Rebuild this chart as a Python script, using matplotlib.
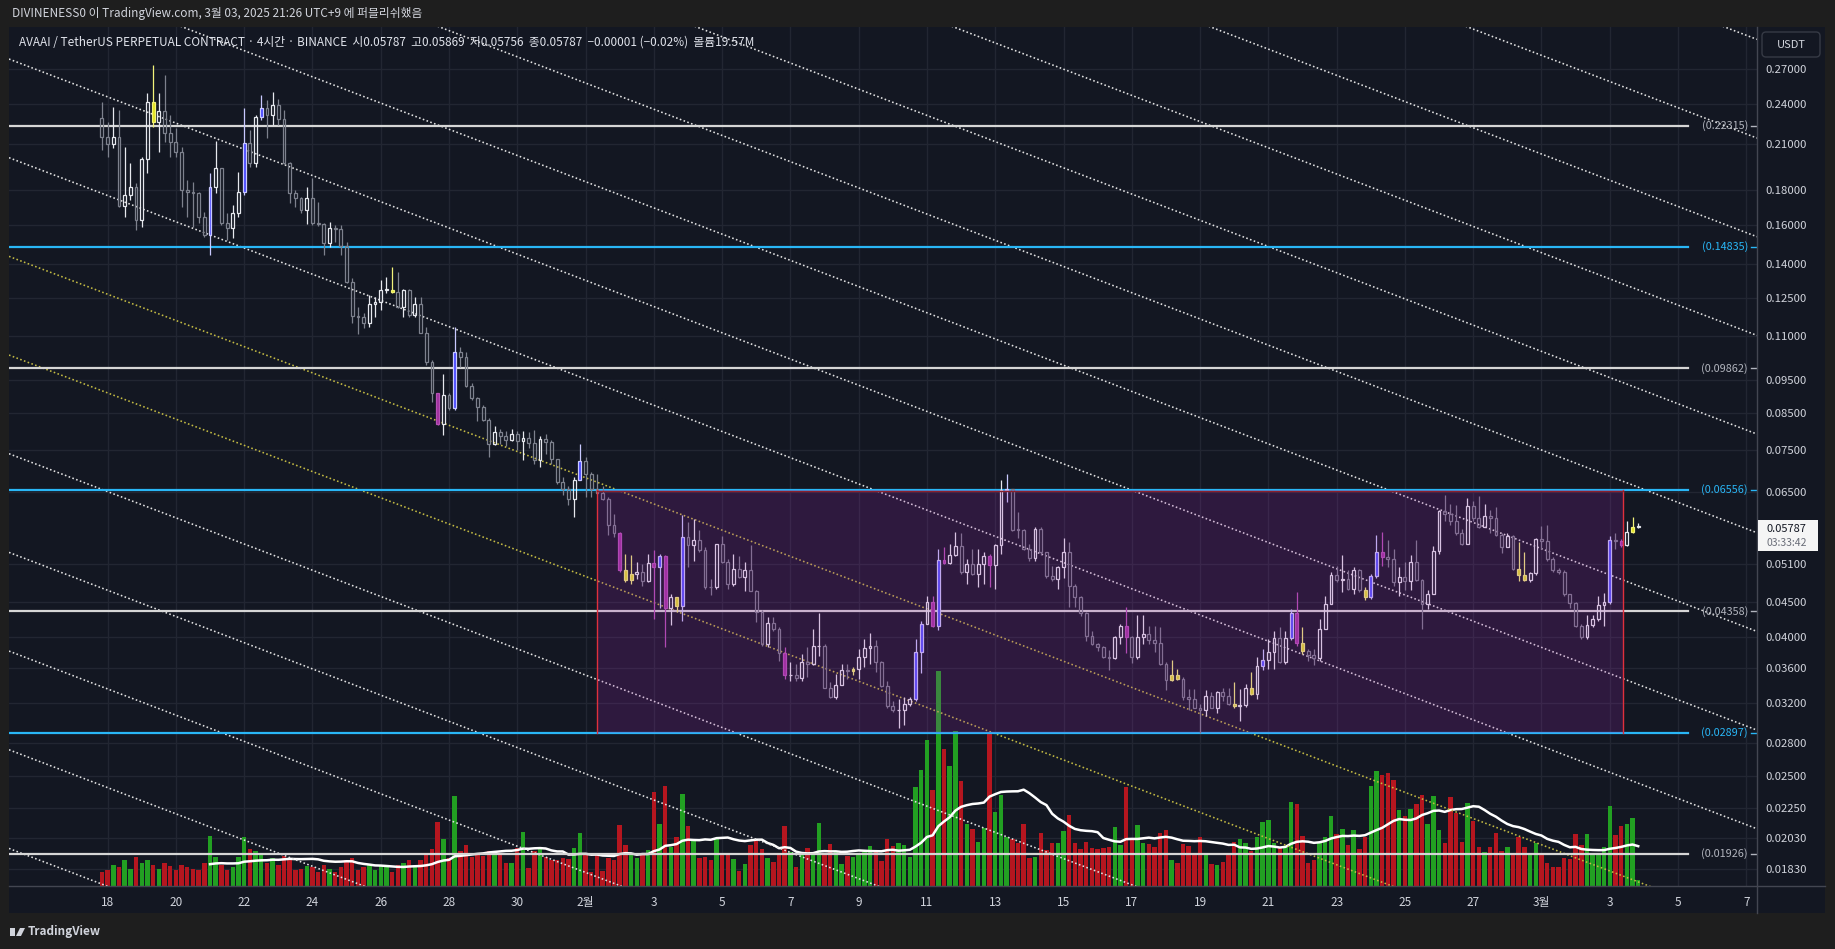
import numpy as np
import pandas as pd
import matplotlib
matplotlib.use("Agg")
import matplotlib.pyplot as plt
from matplotlib.patches import Rectangle, FancyBboxPatch, Polygon
from matplotlib.lines import Line2D
from matplotlib.transforms import IdentityTransform
from matplotlib.ticker import NullLocator, NullFormatter

plt.rcParams['font.family'] = ['Noto Sans CJK KR', 'DejaVu Sans']

# ---- data: AVAAI/USDT perp, 4h bars from 2025-01-17 21:00 (UTC+9) ----
first_open = 0.2287
close = [
    0.2151, 0.2098, 0.2146, 0.1704, 0.1767, 0.1814, 0.1625, 0.1992, 0.2419, 0.2262,
    0.2347, 0.2175, 0.2115, 0.2044, 0.1797, 0.1787, 0.1781, 0.1643, 0.1544, 0.1814,
    0.1933, 0.1610, 0.1579, 0.1662, 0.1787, 0.2103, 0.1965, 0.2300, 0.2366, 0.2313,
    0.2392, 0.2280, 0.1965, 0.1777, 0.1747, 0.1680, 0.1747, 0.1606, 0.1603, 0.1505,
    0.1579, 0.1574, 0.1488, 0.1320, 0.1176, 0.1174, 0.1148, 0.1223, 0.1234, 0.1283,
    0.1283, 0.1276, 0.1213, 0.1283, 0.1180, 0.1225, 0.1112, 0.1008, 0.0907, 0.0818,
    0.0902, 0.0862, 0.1043, 0.1025, 0.0928, 0.0892, 0.0867, 0.0829, 0.0766, 0.0795,
    0.0785, 0.0775, 0.0790, 0.0772, 0.0780, 0.0768, 0.0725, 0.0778, 0.0770, 0.0728,
    0.0672, 0.0658, 0.0636, 0.0677, 0.0722, 0.0692, 0.0658, 0.0649, 0.0636, 0.0582,
    0.0566, 0.0500, 0.0484, 0.0494, 0.0497, 0.0483, 0.0513, 0.0506, 0.0524, 0.0441,
    0.0457, 0.0444, 0.0559, 0.0544, 0.0553, 0.0535, 0.0473, 0.0472, 0.0546, 0.0514,
    0.0477, 0.0503, 0.0489, 0.0501, 0.0467, 0.0435, 0.0390, 0.0419, 0.0410, 0.0379,
    0.0351, 0.0351, 0.0348, 0.0367, 0.0365, 0.0387, 0.0388, 0.0337, 0.0326, 0.0340,
    0.0358, 0.0356, 0.0359, 0.0374, 0.0385, 0.0387, 0.0367, 0.0339, 0.0317, 0.0312,
    0.0313, 0.0319, 0.0324, 0.0380, 0.0418, 0.0450, 0.0415, 0.0518, 0.0512, 0.0526,
    0.0542, 0.0497, 0.0510, 0.0494, 0.0510, 0.0525, 0.0509, 0.0544, 0.0655, 0.0658,
    0.0573, 0.0572, 0.0538, 0.0522, 0.0575, 0.0532, 0.0491, 0.0485, 0.0505, 0.0532,
    0.0475, 0.0457, 0.0433, 0.0401, 0.0390, 0.0386, 0.0373, 0.0372, 0.0399, 0.0415,
    0.0399, 0.0373, 0.0399, 0.0403, 0.0395, 0.0392, 0.0365, 0.0346, 0.0351, 0.0347,
    0.0326, 0.0324, 0.0315, 0.0312, 0.0328, 0.0315, 0.0332, 0.0328, 0.0319, 0.0317,
    0.0318, 0.0337, 0.0330, 0.0362, 0.0370, 0.0380, 0.0398, 0.0367, 0.0398, 0.0433,
    0.0391, 0.0381, 0.0376, 0.0372, 0.0411, 0.0446, 0.0492, 0.0484, 0.0486, 0.0469,
    0.0500, 0.0468, 0.0457, 0.0490, 0.0532, 0.0523, 0.0520, 0.0480, 0.0489, 0.0483,
    0.0514, 0.0484, 0.0446, 0.0462, 0.0534, 0.0611, 0.0605, 0.0591, 0.0566, 0.0547,
    0.0620, 0.0597, 0.0579, 0.0601, 0.0597, 0.0563, 0.0541, 0.0561, 0.0503, 0.0493,
    0.0484, 0.0495, 0.0556, 0.0552, 0.0520, 0.0500, 0.0497, 0.0461, 0.0448, 0.0415,
    0.0399, 0.0416, 0.0424, 0.0445, 0.0449, 0.0554, 0.0552, 0.0544, 0.0569, 0.05787,
    0.05787]
high = [
    0.2419, 0.2262, 0.2379, 0.2352, 0.2075, 0.1965, 0.1838, 0.2010, 0.2488, 0.2740,
    0.2488, 0.2644, 0.2313, 0.2212, 0.2079, 0.1859, 0.1849, 0.1787, 0.1671, 0.1901,
    0.2119, 0.1933, 0.1662, 0.1709, 0.1911, 0.2366, 0.2200, 0.2310, 0.2474, 0.2433,
    0.2497, 0.2438, 0.2352, 0.1977, 0.1797, 0.1757, 0.1818, 0.1870, 0.1728, 0.1606,
    0.1615, 0.1597, 0.1597, 0.1510, 0.1335, 0.1213, 0.1190, 0.1262, 0.1255, 0.1327,
    0.1342, 0.1385, 0.1365, 0.1290, 0.1290, 0.1255, 0.1255, 0.1135, 0.1014, 0.0907,
    0.0968, 0.0907, 0.1135, 0.1061, 0.1043, 0.0938, 0.0897, 0.0872, 0.0834, 0.0812,
    0.0805, 0.0800, 0.0805, 0.0800, 0.0800, 0.0795, 0.0802, 0.0785, 0.0792, 0.0776,
    0.0728, 0.0684, 0.0665, 0.0685, 0.0765, 0.0733, 0.0696, 0.0692, 0.0665, 0.0640,
    0.0605, 0.0569, 0.0529, 0.0526, 0.0514, 0.0511, 0.0529, 0.0535, 0.0529, 0.0526,
    0.0462, 0.0457, 0.0602, 0.0589, 0.0594, 0.0572, 0.0541, 0.0486, 0.0547, 0.0561,
    0.0519, 0.0529, 0.0524, 0.0514, 0.0544, 0.0468, 0.0437, 0.0427, 0.0427, 0.0413,
    0.0386, 0.0367, 0.0365, 0.0377, 0.0386, 0.0410, 0.0433, 0.0390, 0.0343, 0.0353,
    0.0365, 0.0365, 0.0361, 0.0384, 0.0397, 0.0405, 0.0395, 0.0369, 0.0345, 0.0322,
    0.0324, 0.0326, 0.0326, 0.0397, 0.0422, 0.0459, 0.0459, 0.0538, 0.0541, 0.0547,
    0.0568, 0.0566, 0.0519, 0.0538, 0.0538, 0.0531, 0.0529, 0.0547, 0.0677, 0.0692,
    0.0658, 0.0608, 0.0575, 0.0547, 0.0578, 0.0578, 0.0532, 0.0508, 0.0508, 0.0558,
    0.0550, 0.0478, 0.0459, 0.0435, 0.0408, 0.0392, 0.0388, 0.0383, 0.0401, 0.0418,
    0.0442, 0.0401, 0.0430, 0.0430, 0.0415, 0.0415, 0.0413, 0.0367, 0.0370, 0.0359,
    0.0349, 0.0335, 0.0335, 0.0319, 0.0334, 0.0332, 0.0333, 0.0337, 0.0337, 0.0343,
    0.0335, 0.0341, 0.0355, 0.0373, 0.0384, 0.0397, 0.0408, 0.0413, 0.0408, 0.0439,
    0.0465, 0.0413, 0.0384, 0.0384, 0.0424, 0.0459, 0.0497, 0.0508, 0.0527, 0.0500,
    0.0505, 0.0503, 0.0472, 0.0494, 0.0564, 0.0569, 0.0553, 0.0538, 0.0505, 0.0514,
    0.0527, 0.0553, 0.0486, 0.0468, 0.0542, 0.0613, 0.0644, 0.0625, 0.0623, 0.0574,
    0.0637, 0.0631, 0.0641, 0.0625, 0.0612, 0.0619, 0.0567, 0.0567, 0.0563, 0.0550,
    0.0532, 0.0497, 0.0558, 0.0581, 0.0583, 0.0523, 0.0504, 0.0500, 0.0462, 0.0449,
    0.0417, 0.0430, 0.0430, 0.0458, 0.0463, 0.0562, 0.0566, 0.0556, 0.0591, 0.0598,
    0.05869]
low = [
    0.2056, 0.2005, 0.2067, 0.1698, 0.1639, 0.1738, 0.1571, 0.1588, 0.1901, 0.2224,
    0.2044, 0.2115, 0.2010, 0.2010, 0.1698, 0.1643, 0.1588, 0.1606, 0.1535, 0.1444,
    0.1777, 0.1597, 0.1519, 0.1527, 0.1643, 0.1767, 0.1944, 0.1944, 0.2274, 0.2139,
    0.2237, 0.2237, 0.1961, 0.1722, 0.1698, 0.1662, 0.1603, 0.1597, 0.1592, 0.1444,
    0.1486, 0.1510, 0.1444, 0.1316, 0.1148, 0.1108, 0.1128, 0.1135, 0.1174, 0.1200,
    0.1269, 0.1269, 0.1207, 0.1174, 0.1174, 0.1174, 0.1110, 0.0997, 0.0882, 0.0816,
    0.0788, 0.0857, 0.0857, 0.0992, 0.0926, 0.0887, 0.0827, 0.0825, 0.0733, 0.0762,
    0.0765, 0.0760, 0.0772, 0.0750, 0.0725, 0.0755, 0.0716, 0.0708, 0.0740, 0.0716,
    0.0668, 0.0645, 0.0622, 0.0598, 0.0677, 0.0640, 0.0640, 0.0647, 0.0633, 0.0563,
    0.0560, 0.0497, 0.0480, 0.0477, 0.0486, 0.0475, 0.0480, 0.0425, 0.0441, 0.0386,
    0.0416, 0.0434, 0.0422, 0.0505, 0.0516, 0.0532, 0.0470, 0.0460, 0.0470, 0.0512,
    0.0470, 0.0475, 0.0488, 0.0467, 0.0466, 0.0420, 0.0388, 0.0386, 0.0408, 0.0369,
    0.0347, 0.0344, 0.0345, 0.0345, 0.0349, 0.0363, 0.0375, 0.0336, 0.0325, 0.0324,
    0.0340, 0.0347, 0.0351, 0.0347, 0.0361, 0.0365, 0.0355, 0.0338, 0.0315, 0.0310,
    0.0294, 0.0297, 0.0317, 0.0322, 0.0354, 0.0417, 0.0413, 0.0409, 0.0511, 0.0511,
    0.0524, 0.0494, 0.0477, 0.0493, 0.0473, 0.0478, 0.0473, 0.0470, 0.0529, 0.0630,
    0.0570, 0.0558, 0.0535, 0.0516, 0.0516, 0.0526, 0.0488, 0.0482, 0.0470, 0.0488,
    0.0442, 0.0442, 0.0429, 0.0394, 0.0389, 0.0381, 0.0372, 0.0357, 0.0371, 0.0390,
    0.0378, 0.0366, 0.0371, 0.0390, 0.0390, 0.0380, 0.0364, 0.0334, 0.0345, 0.0346,
    0.0323, 0.0313, 0.0315, 0.0289, 0.0306, 0.0315, 0.0309, 0.0322, 0.0318, 0.0315,
    0.0301, 0.0316, 0.0329, 0.0324, 0.0357, 0.0359, 0.0359, 0.0366, 0.0365, 0.0395,
    0.0387, 0.0377, 0.0369, 0.0363, 0.0368, 0.0411, 0.0446, 0.0480, 0.0465, 0.0468,
    0.0462, 0.0465, 0.0452, 0.0454, 0.0488, 0.0508, 0.0505, 0.0475, 0.0459, 0.0468,
    0.0468, 0.0483, 0.0411, 0.0439, 0.0461, 0.0529, 0.0591, 0.0582, 0.0563, 0.0544,
    0.0546, 0.0591, 0.0577, 0.0582, 0.0566, 0.0562, 0.0530, 0.0540, 0.0500, 0.0483,
    0.0483, 0.0480, 0.0493, 0.0538, 0.0516, 0.0497, 0.0494, 0.0459, 0.0441, 0.0413,
    0.0397, 0.0397, 0.0413, 0.0422, 0.0415, 0.0447, 0.0538, 0.0541, 0.0542, 0.0567,
    0.05756]
# volume in millions of AVAAI
volume = [
    46, 53, 69, 61, 84, 57, 95, 76, 84, 69,
    57, 76, 65, 53, 69, 61, 57, 53, 76, 164,
    95, 69, 53, 61, 95, 160, 122, 114, 107, 76,
    91, 69, 99, 84, 53, 57, 65, 61, 46, 69,
    57, 46, 61, 84, 91, 53, 61, 69, 53, 65,
    61, 46, 69, 76, 84, 69, 84, 107, 122, 210,
    152, 91, 293, 114, 133, 95, 107, 99, 114, 101,
    101, 74, 76, 123, 177, 58, 115, 120, 96, 85,
    85, 90, 87, 123, 172, 101, 47, 109, 50, 90,
    85, 199, 134, 107, 90, 101, 117, 308, 204, 326,
    128, 161, 302, 196, 150, 90, 96, 85, 155, 109,
    107, 87, 50, 72, 134, 148, 120, 90, 79, 107,
    196, 112, 61, 109, 123, 104, 207, 109, 137, 112,
    72, 98, 96, 107, 112, 130, 112, 83, 155, 130,
    139, 134, 96, 322, 378, 476, 313, 702, 446, 391,
    505, 343, 204, 185, 145, 188, 503, 242, 297, 159,
    152, 139, 202, 93, 96, 174, 117, 139, 139, 180,
    232, 141, 120, 145, 123, 120, 123, 128, 193, 134,
    324, 152, 199, 139, 137, 126, 174, 183, 85, 74,
    137, 130, 101, 159, 104, 72, 68, 79, 107, 145,
    152, 139, 115, 159, 210, 215, 139, 123, 128, 275,
    267, 163, 74, 85, 139, 161, 228, 170, 185, 134,
    183, 120, 161, 326, 376, 362, 370, 346, 248, 228,
    250, 267, 297, 202, 293, 183, 141, 291, 239, 145,
    272, 213, 128, 112, 128, 172, 115, 126, 109, 161,
    126, 101, 141, 101, 76, 63, 63, 90, 87, 170,
    134, 170, 109, 101, 128, 261, 166, 196, 204, 221,
    19.57]

# bars that the chart paints in special colours
blue_idx = [19, 25, 28, 62, 84, 98, 102, 143, 144, 147, 159, 204, 209, 223, 224, 265]
magenta_idx = [59, 91, 97, 99, 120, 146, 148, 156, 180, 210, 225, 267]
yellow_idx = [9, 51, 92, 93, 101, 132, 188, 189, 199, 202, 211, 222, 249, 250, 269]

# horizontal levels drawn on the chart
levels = [0.22315, 0.14835, 0.09862, 0.06556, 0.04358, 0.02897, 0.01926]
level_is_cyan = [False, True, False, True, False, True, False]

# parallel channel: middle (yellow) line anchors, step between lines
chan_k = [0, 270]
chan_p = [0.1275, 0.01753]
chan_step = 1.3937
chan_offsets = list(range(-6, 10))
chan_yellow = [0, -1]

# box drawn from bar 87 to 267 between two levels
box_k = [87.0, 267.3]
box_p = [0.02897, 0.06556]

price_ticks = [0.27, 0.24, 0.21, 0.18, 0.16, 0.14, 0.125, 0.11, 0.095, 0.085,
               0.075, 0.065, 0.051, 0.045, 0.04, 0.036, 0.032, 0.028, 0.025,
               0.0225, 0.0203, 0.0183]

start = pd.Timestamp('2025-01-17 21:00')
tick_days = pd.date_range('2025-01-18', '2025-03-07', freq='2D')

# ---- figure ----
W, H = 1835, 949
BG = '#131722'
fig = plt.figure(figsize=(W / 100, H / 100), dpi=100)
fig.patch.set_facecolor('#1e1e1e')

def fx(px):
    return px / W

def fy(py):
    return 1 - py / H

fig.add_artist(Rectangle((fx(9), fy(913)), fx(1825) - fx(9), fy(27) - fy(913),
                         transform=fig.transFigure, facecolor=BG, edgecolor='none', zorder=-5))

rect = [fx(9), fy(886), fx(1757) - fx(9), fy(27) - fy(886)]
axv = fig.add_axes(rect)
ax = fig.add_axes(rect)
for a in (axv, ax):
    a.patch.set_visible(False)
    for s in a.spines.values():
        s.set_visible(False)

KL, KR = -16.33, 290.88
ax.set_yscale('log')
ax.set_ylim(0.017288, 0.3110)
ax.set_xlim(KL, KR)
axv.set_xlim(KL, KR)
axv.set_ylim(0, 2805)
axv.set_xticks([])
axv.set_yticks([])

# ticks
tick_k = [(d + pd.Timedelta(hours=1) - start) / pd.Timedelta(hours=4) for d in tick_days]
tick_lab = [f'{d.month}월' if d.day == 1 else str(d.day) for d in tick_days]
ax.set_xticks(tick_k)
ax.set_xticklabels(tick_lab)
ax.tick_params(axis='x', length=0, pad=7, labelsize=8.5, labelcolor='#d1d4dc')
ax.yaxis.tick_right()
ax.set_yticks(price_ticks)
ax.set_yticklabels([f'{p:.5f}' for p in price_ticks])
ax.yaxis.set_minor_locator(NullLocator())
ax.yaxis.set_minor_formatter(NullFormatter())
ax.tick_params(axis='y', length=0, pad=6, labelsize=8.2, labelcolor='#d1d4dc')

# grid (under the volume bars)
GRID = '#222632'
for p in price_ticks:
    axv.plot([KL, KR], [p, p], color=GRID, lw=1, transform=ax.transData, zorder=0)
for t in tick_k:
    axv.axvline(t, color=GRID, lw=1, zorder=0)

# candles
c = np.array(close)
o = np.r_[first_open, c[:-1]]
hi = np.maximum(np.array(high), np.maximum(o, c))
lo = np.minimum(np.array(low), np.minimum(o, c))
k = np.arange(len(c))
up = c >= o
top = np.maximum(o, c)
bot = np.minimum(o, c)

edge = ['#e6e8ee' if u else '#7d818d' for u in up]
face = ['none'] * len(c)
for i in blue_idx:
    face[i], edge[i] = '#4646ff', '#c9c9ff'
for i in magenta_idx:
    face[i], edge[i] = '#a0309f', '#b552b5'
for i in yellow_idx:
    face[i], edge[i] = '#e2e21c', '#f2f27a'

ax.vlines(k, top, hi, colors=edge, lw=0.9, zorder=4)
ax.vlines(k, lo, bot, colors=edge, lw=0.9, zorder=4)
body = np.maximum(top, bot * 1.003) - bot
ax.bar(k, body, bottom=bot, width=0.5, color=face, edgecolor=edge, linewidth=0.9, zorder=5)

# volume + 20 MA
vol = np.array(volume, dtype=float)
vcol = np.where(up, '#22a022', '#b5161f')
axv.bar(k, vol, width=0.78, color=vcol, zorder=2)
ma = pd.Series(vol).rolling(20).mean()
axv.plot(k, ma, color='white', lw=1.8, zorder=3)

# channel lines
def chan_price(kk, n):
    lp0, lp1 = np.log(chan_p[0]), np.log(chan_p[1])
    lp = lp0 + (lp1 - lp0) * (kk - chan_k[0]) / (chan_k[1] - chan_k[0])
    return np.exp(lp) * chan_step ** n

for n in chan_offsets:
    col = '#c4bb44' if n in chan_yellow else '#e4e4e4'
    xs = np.array([KL, KR])
    ax.plot(xs, chan_price(xs, n), color=col, lw=1.15, ls=(0, (1, 1.5)), zorder=3)

# horizontal levels
K_END = 278.75
for lv, cy in zip(levels, level_is_cyan):
    col = '#29b6f6' if cy else '#d6d6d6'
    tcol = '#29b6f6' if cy else '#b2b5be'
    ax.plot([KL, K_END], [lv, lv], color=col, lw=1.6, zorder=3.5)
    ax.text(289.3, lv, f'({lv:.5f})', color=tcol, fontsize=7.8, ha='right', va='center', zorder=7)
    ax.plot([289.9, 290.7], [lv, lv], color=tcol, lw=1, zorder=7)

# purple box: fill plus red sides
ax.add_patch(Rectangle((box_k[0], box_p[0]), box_k[1] - box_k[0], box_p[1] - box_p[0],
                       facecolor=(0.61, 0.15, 0.69, 0.2), edgecolor='none', zorder=6))
for bx in box_k:
    ax.plot([bx, bx], box_p, color='#e0303c', lw=1.0, zorder=6.5)
ax.plot(box_k, [box_p[1] * 0.997] * 2, color='#8a1f2c', lw=1.0, zorder=6.5)

# axis separators
fig.add_artist(Line2D([fx(1757), fx(1757)], [fy(27), fy(913)], transform=fig.transFigure,
                      color='#434651', lw=1))
fig.add_artist(Line2D([fx(9), fx(1825)], [fy(886), fy(886)], transform=fig.transFigure,
                      color='#434651', lw=1))

# texts
header = 'DIVINENESS0 이 TradingView.com, 3월 03, 2025 21:26 UTC+9 에 퍼블리쉬했음'
legend = ('AVAAI / TetherUS PERPETUAL CONTRACT · 4시간 · BINANCE  시0.05787  고0.05869  '
          '저0.05756  종0.05787  −0.00001 (−0.02%)  볼륨19.57M')
fig.text(fx(12), fy(14), header, fontsize=8.5, color='#d1d4dc', va='center', ha='left')
fig.text(fx(19), fy(42), legend, fontsize=8.5, color='#e0e3eb', va='center', ha='left')

ident = IdentityTransform()
fig.add_artist(FancyBboxPatch((1762, H - 57), 58, 25, boxstyle='round,pad=0,rounding_size=4',
                              transform=ident, facecolor=BG, edgecolor='#363a45', lw=1))
fig.text(fx(1791), fy(45), 'USDT', fontsize=8, color='#d1d4dc', ha='center', va='center')

fig.add_artist(Rectangle((1758, H - 551), 60, 31, transform=ident,
                         facecolor='#f5f5f5', edgecolor='none', zorder=8))
fig.text(fx(1766), fy(529), f'{c[-1]:.5f}', fontsize=8, color='#131722', va='center', zorder=9)
fig.text(fx(1766), fy(543), '03:33:42', fontsize=7.5, color='#6a6d78', va='center', zorder=9)

# footer logo
fig.add_artist(Rectangle((10, H - 936), 5, 8, transform=ident, facecolor='#d1d4dc'))
fig.add_artist(Polygon([[16, H - 936], [21, H - 936], [25, H - 928], [20, H - 928]],
                       transform=ident, facecolor='#d1d4dc'))
fig.text(fx(28), fy(932), 'TradingView', fontsize=8.5, color='#d1d4dc', va='center',
         fontweight='bold')

fig.savefig('out.png', dpi=100, facecolor=fig.get_facecolor())
